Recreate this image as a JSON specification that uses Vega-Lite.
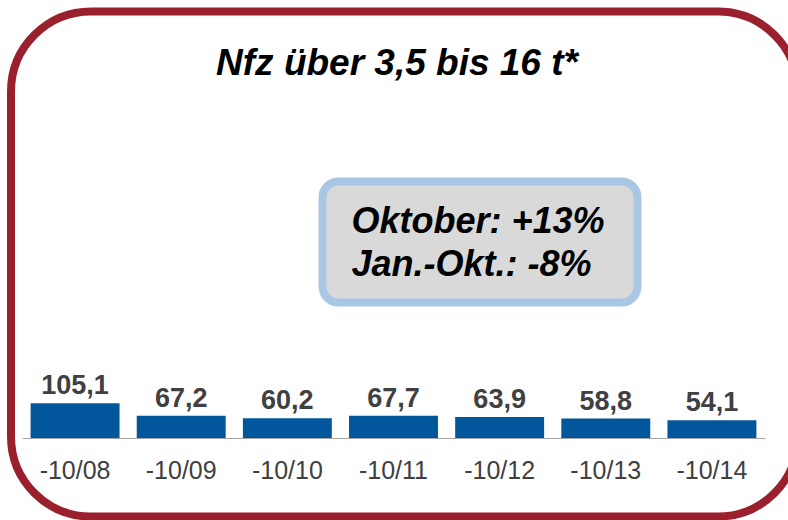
{
  "$schema": "https://vega.github.io/schema/vega-lite/v6.json",
  "autosize": {"type": "none"},
  "width": 777,
  "height": 505,
  "padding": {"left": 11, "top": 11.5, "right": 0, "bottom": 3.5},
  "background": "#ffffff",
  "title": {
    "text": "Nfz über 3,5 bis 16 t*",
    "anchor": "middle",
    "frame": "group",
    "offset": -104.5,
    "baseline": "alphabetic",
    "dx": -2.5,
    "font": "Liberation Sans",
    "fontSize": 37,
    "fontStyle": "italic",
    "fontWeight": "bold",
    "color": "#000000"
  },
  "config": {
    "locale": {"number": {"decimal": ",", "thousands": ".", "grouping": [3], "currency": ["", " €"]}},
    "view": {"stroke": null, "fill": null}
  },
  "resolve": {"scale": {"x": "independent"}},
  "layer": [
    {
      "data": {"values": [{}]},
      "mark": {"type": "rect", "filled": false, "color": "#9b202e", "strokeWidth": 8, "cornerRadius": 80, "clip": false},
      "encoding": {
        "x": {"datum": -0.1036, "type": "quantitative", "scale": {"domain": [0, 7], "range": [11, 754], "clamp": false}, "axis": null},
        "x2": {"datum": 7.31},
        "y": {"datum": -237.7, "type": "quantitative", "scale": {"domain": [-237.7, 1291.6], "nice": false, "zero": false}, "axis": null},
        "y2": {"datum": 1291.6}
      }
    },
    {
      "data": {"values": [{}]},
      "mark": {"type": "rect", "fill": "#d9d9d9", "stroke": "#a9c6e4", "strokeWidth": 8, "cornerRadius": 16},
      "encoding": {
        "x": {"datum": 2.831, "type": "quantitative", "scale": {"domain": [0, 7], "range": [11, 754]}, "axis": null},
        "x2": {"datum": 5.799},
        "y": {"datum": 410.4, "type": "quantitative", "scale": {"domain": [-237.7, 1291.6], "nice": false, "zero": false}, "axis": null},
        "y2": {"datum": 776.8}
      }
    },
    {
      "data": {"values": [{}]},
      "mark": {
        "type": "text",
        "text": ["Oktober: +13%", "Jan.-Okt.: -8%"],
        "lineHeight": 43,
        "align": "left",
        "baseline": "alphabetic",
        "font": "Liberation Sans",
        "fontSize": 36,
        "fontStyle": "italic",
        "fontWeight": "bold",
        "color": "#000000"
      },
      "encoding": {
        "x": {"datum": 3.104, "type": "quantitative", "scale": {"domain": [0, 7], "range": [11, 754]}, "axis": null},
        "y": {"datum": 620.8, "type": "quantitative", "scale": {"domain": [-237.7, 1291.6], "nice": false, "zero": false}, "axis": null}
      }
    },
    {
      "data": {"values": [
        {"period": "-10/08", "value": 105.1},
        {"period": "-10/09", "value": 67.2},
        {"period": "-10/10", "value": 60.2},
        {"period": "-10/11", "value": 67.7},
        {"period": "-10/12", "value": 63.9},
        {"period": "-10/13", "value": 58.8},
        {"period": "-10/14", "value": 54.1}
      ]},
      "mark": {"type": "bar", "color": "#02569b"},
      "encoding": {
        "x": {
          "field": "period", "type": "nominal", "sort": null,
          "scale": {"range": [11, 754], "paddingInner": 0.162, "paddingOuter": 0.081},
          "axis": {
            "title": null, "orient": "bottom", "offset": -78.5,
            "domainColor": "#a6a6a6", "domainWidth": 1.2,
            "ticks": false, "tickSize": 0, "grid": false,
            "labelPadding": 40, "labelBaseline": "alphabetic", "labelAngle": 0,
            "labelFont": "Liberation Sans", "labelFontSize": 25, "labelColor": "#404040"
          }
        },
        "y": {"field": "value", "type": "quantitative", "scale": {"domain": [-237.7, 1291.6], "nice": false, "zero": false}, "axis": null}
      }
    },
    {
      "data": {"values": [
        {"period": "-10/08", "value": 105.1},
        {"period": "-10/09", "value": 67.2},
        {"period": "-10/10", "value": 60.2},
        {"period": "-10/11", "value": 67.7},
        {"period": "-10/12", "value": 63.9},
        {"period": "-10/13", "value": 58.8},
        {"period": "-10/14", "value": 54.1}
      ]},
      "mark": {"type": "text", "dy": -9, "baseline": "alphabetic", "align": "center", "font": "Liberation Sans", "fontSize": 27, "fontWeight": "bold", "color": "#404040"},
      "encoding": {
        "x": {"field": "period", "type": "nominal", "sort": null, "scale": {"range": [11, 754], "paddingInner": 0.162, "paddingOuter": 0.081}, "axis": null},
        "y": {"field": "value", "type": "quantitative", "scale": {"domain": [-237.7, 1291.6], "nice": false, "zero": false}, "axis": null},
        "text": {"field": "value", "type": "quantitative", "format": ".1f"}
      }
    }
  ]
}
